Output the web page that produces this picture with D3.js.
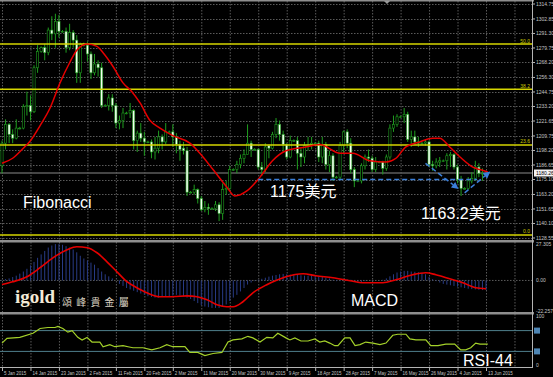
<!DOCTYPE html>
<html>
<head>
<meta charset="utf-8">
<script src="https://cdnjs.cloudflare.com/ajax/libs/d3/7.8.5/d3.min.js"></script>
<style>
body { margin: 0; background: #000; }
svg { display: block; }
</style>
</head>
<body>
<div id="chart"></div>
<script>
// daily bars, 5 Jan .. 13 Jun 2015 (broker has saturday stubs)
var opens = [1186,1204,1219,1211,1208,1216,1216,1233,1234,1229,
    1264,1277,1280,1276,1294,1291,1301,1293,1293,1280,
    1292,1286,1260,1283,1282,1275,1260,1267,1264,1234,
    1234,1240,1234,1220,1222,1228,1228,1230,1206,1212,
    1208,1205,1205,1197,1200,1209,1205,1213,1213,1209,
    1203,1200,1198,1165,1165,1167,1160,1151,1153,1152,
    1152,1155,1148,1167,1168,1183,1183,1187,1192,1195,
    1204,1199,1199,1185,1183,1202,1200,1211,1219,1211,
    1203,1193,1206,1206,1196,1193,1202,1203,1204,1204,
    1193,1203,1187,1194,1177,1177,1202,1213,1204,1183,
    1174,1174,1186,1193,1192,1183,1189,1189,1184,1193,
    1216,1219,1225,1225,1227,1207,1209,1205,1204,1204,
    1205,1187,1186,1189,1190,1190,1194,1195,1185,1175,
    1168,1168,1174,1176,1185,1180,1180];
var highs = [1206,1223,1220,1215,1223,1217,1235,1245,1242,1266,
    1282,1281,1283,1296,1305,1307,1306,1294,1296,1299,
    1294,1290,1284,1284,1285,1277,1275,1270,1268,1235,
    1243,1243,1236,1226,1232,1229,1236,1231,1214,1220,
    1213,1206,1207,1209,1214,1211,1220,1214,1219,1212,
    1206,1205,1201,1166,1171,1168,1162,1158,1156,1153,
    1158,1157,1172,1174,1186,1184,1190,1195,1199,1219,
    1206,1200,1200,1189,1204,1203,1213,1224,1222,1214,
    1204,1210,1207,1209,1200,1205,1209,1209,1205,1206,
    1209,1205,1198,1196,1178,1205,1214,1215,1208,1185,
    1175,1188,1195,1199,1194,1193,1190,1190,1195,1219,
    1226,1227,1226,1232,1229,1214,1214,1209,1205,1207,
    1206,1190,1192,1193,1191,1196,1197,1196,1187,1178,
    1169,1177,1181,1190,1188,1184,1181];
var lows = [1180,1199,1204,1204,1207,1215,1215,1226,1222,1228,
    1260,1276,1270,1274,1286,1280,1288,1292,1276,1278,
    1280,1252,1252,1281,1269,1255,1258,1257,1232,1233,
    1230,1229,1216,1215,1216,1227,1224,1199,1197,1205,
    1194,1204,1192,1191,1196,1199,1203,1212,1201,1196,
    1190,1195,1162,1164,1163,1156,1150,1149,1147,1151,
    1150,1142,1143,1163,1166,1182,1180,1184,1188,1195,
    1193,1198,1183,1178,1181,1192,1199,1208,1206,1197,
    1191,1192,1205,1183,1185,1188,1198,1199,1203,1189,
    1188,1183,1181,1174,1176,1175,1196,1200,1180,1169,
    1173,1172,1183,1189,1181,1181,1188,1179,1182,1191,
    1213,1217,1224,1220,1205,1201,1203,1201,1203,1202,
    1185,1182,1184,1185,1189,1183,1185,1183,1172,1162,
    1167,1167,1172,1174,1177,1174,1179];
var closes = [1204,1219,1211,1208,1216,1216,1233,1234,1229,1264,
    1277,1280,1276,1294,1291,1301,1293,1293,1280,1292,
    1286,1260,1283,1282,1275,1260,1267,1264,1234,1234,
    1240,1234,1220,1222,1228,1228,1230,1206,1212,1208,
    1205,1205,1197,1200,1209,1205,1213,1213,1209,1203,
    1199,1198,1165,1165,1167,1160,1151,1153,1152,1152,
    1155,1148,1167,1168,1183,1183,1187,1192,1195,1204,
    1199,1199,1185,1183,1201,1200,1211,1219,1211,1203,
    1193,1206,1206,1196,1193,1202,1203,1204,1204,1193,
    1203,1187,1194,1177,1177,1202,1213,1204,1183,1174,
    1174,1186,1193,1192,1183,1189,1189,1184,1193,1216,
    1219,1225,1225,1227,1207,1209,1205,1204,1204,1205,
    1187,1186,1189,1190,1190,1194,1195,1185,1175,1168,
    1168,1174,1176,1185,1180,1180,1180];

// red moving average, read as [bar, price]
var maLine = [[0,1188],[3,1192],[6,1200],[8,1206],[10.7,1218],[13.5,1232],[16.3,1252],
    [19,1268],[21,1278],[23.9,1283],[26.7,1281],[28.4,1276],[31.2,1265],[34,1252],
    [36.5,1245],[38.8,1236],[41.6,1222],[44.4,1216],[48,1210],[52.8,1204],[55.6,1196],
    [59.3,1183],[63.2,1169],[65.4,1162],[68.8,1166],[72.5,1177],[76,1190],[79.8,1198],
    [85.4,1201],[89.3,1203],[95,1196],[98.6,1196],[103.4,1190],[107.9,1189],[110.7,1192],
    [113.5,1201],[117.4,1205],[121,1208],[123,1208],[125.8,1201],[128.7,1193],
    [132.3,1185],[134.3,1183],[136.5,1181]];

var fibLevels = [0.0, 23.6, 38.2, 50.0];
var fibPrices = [1131.0, 1202.6, 1247.0, 1282.9];
var lastPrice = 1180.26;

var priceTicks = [1314.75,1302.85,1291.30,1279.75,1268.20,1256.30,1244.75,1233.20,1221.65,
    1209.75,1198.20,1186.65,1175.10,1163.20,1151.65,1140.10,1128.55];

var macdHist = [0.5,1,1.5,2.5,3.5,5,6.5,8.5,11,13.5,
    16.5,19,21.5,24,25.5,26.5,26.5,26,25,24,
    22.5,20.5,18,16,14.5,13,11.5,9,6.5,4.5,
    3,1.5,0,-2.5,-4,-5.5,-6.5,-7.5,-8.5,-9.5,
    -10.5,-11.5,-12,-12.5,-12.5,-12,-12,-11.5,-11,-10.5,
    -11,-11.5,-12.5,-13.5,-15,-16.5,-18,-19,-19.5,-20,
    -20,-20,-19,-17.5,-15,-12.5,-10.5,-8,-5.5,-3,
    -1.5,-0.5,0.5,1.2,2,2.8,3.5,4,4.5,4.8,
    4.5,4.2,4.5,4,3.8,3.5,3.5,3.8,3.5,3,
    2.5,2,1.5,0.5,-0.5,-0.5,0.5,0.8,0.5,-0.5,
    -1,-1,-0.5,0,-0.3,0,0.2,0.5,1.5,3,
    4.5,5.8,6.5,7,7,6.5,6.3,6,5.5,4.5,
    2.5,1,-0.5,-1.5,-2.5,-3,-3.5,-4,-4.5,-5,
    -5.5,-6,-6.3,-6.5,-6.8,-7,-7];
var macdSignal = [[0,-3],[3,-1],[7,2.7],[10.7,9.3],[14.3,16.5],[18.3,22.4],[21,24.6],[24,23.9],
    [26.7,20.2],[29.5,13.6],[32.3,6.3],[35.1,-0.9],[37.9,-5.3],[40.7,-9],[44.4,-11.9],
    [48,-11.9],[52,-11.2],[54.8,-11.9],[57.6,-14.1],[60.4,-17.7],[63.2,-19.2],[65,-19.2],
    [67.7,-15.5],[70.5,-9],[74.4,-3.1],[77.5,0.5],[79.8,2.7],[84.6,4.9],[88.2,3.4],[93,2],
    [97.8,-0.2],[101.4,-1.7],[107,-1.7],[110.7,0.5],[115.4,4.2],[119.1,5.6],[121.9,4.2],
    [125.8,1.2],[129.5,-1.7],[133.1,-5.3],[136,-6]];
var macdTicks = [27.305, 0, -22.257];
var macdTickText = ["27.305", "0.00", "-22.257"];

var rsiLine = [[0,46],[1.4,55],[5,57],[8.7,65],[10.7,74],[12.9,76],[14.9,76],[15.7,78],[17.1,74],
    [18.5,67],[19.7,70],[21.3,57],[22.5,52],[23.9,57],[25.3,48],[27.5,48],[28.4,39],[30.3,43],
    [31.7,39],[34,41],[35.4,39],[36.8,37],[39.6,37],[42.1,33],[44.4,37],[46.3,43],[48,39],
    [51.4,39],[52.8,28],[55,28],[57,22],[59.3,26],[61.8,28],[63.5,48],[64.9,52],[67.4,54],
    [69.1,59],[70.5,56],[72.5,48],[74.4,57],[76.1,56],[77.5,65],[79.8,56],[80.9,52],[82.3,56],
    [84,50],[86,50],[87.9,54],[89.3,48],[90.7,50],[92.1,46],[93.5,41],[94.4,41],[96.3,56],
    [97.8,56],[99.2,41],[100.6,43],[102.2,48],[104.2,46],[106.2,43],[107.9,46],[109.8,61],
    [111.2,63],[113.5,63],[114.6,54],[116.3,52],[119.1,52],[120.5,41],[122.5,41],[124.7,44],
    [127.2,44],[128.9,33],[130.3,33],[131.7,37],[133.1,46],[134.3,44],[136.5,44]];
var rsiLevels = [70, 30];

var dateTicks = [0,8,16,24,32,40,48,56,64,72,80,88,96,104,112,120,128,136];
var dateLabels = ["5 Jan 2015","14 Jan 2015","23 Jan 2015","2 Feb 2015","11 Feb 2015",
    "20 Feb 2015","2 Mar 2015","11 Mar 2015","20 Mar 2015","30 Mar 2015","9 Apr 2015",
    "18 Apr 2015","28 Apr 2015","7 May 2015","16 May 2015","26 May 2015","4 Jun 2015","13 Jun 2015"];
var gridBars = [0,8,16,24,32,40,48,56,64,72,80,88,96,104,112,120,128,136,144];

var chartApp = {};
(function(context) {

    var width = 553;
    var height = 377;
    var plotRight = 532;

    var svg;
    var x, yPrice, yMacd, yRsi;

    var green = "#1f9e1f";
    var gridColor = "#5a5a5a";
    var axisText = "#c4c4c4";
    var cjkFont = "'Liberation Sans', Arial, 'Noto Sans CJK TC', sans-serif";

    context.setup = function(name) {
        svg = d3.select(name).append("svg")
            .attr("width", width)
            .attr("height", height)
            .style("background", "#000");

        x = d3.scaleLinear().domain([0, 136]).range([2, 486]);
        yPrice = d3.scaleLinear().domain([1128.55, 1314.75]).range([238, 4]);
        yMacd = d3.scaleLinear().domain([-22.257, 27.305]).range([311, 243]);
        yRsi = d3.scaleLinear().domain([0, 100]).range([367, 315]);

        var defs = svg.append("defs");
        [["clipMain", 0, 240], ["clipMacd", 242, 312], ["clipRsi", 314, 367]].forEach(function(c) {
            defs.append("clipPath").attr("id", c[0])
                .append("rect")
                .attr("x", 0).attr("y", c[1])
                .attr("width", plotRight).attr("height", c[2] - c[1]);
        });
    }

    context.grid = function() {
        var g = svg.append("g");

        // vertical dotted lines, one set per panel
        [[1, 240], [242, 312], [314, 367]].forEach(function(p) {
            g.selectAll(null)
                .data(gridBars)
                .enter()
                .append("line")
                .attr("x1", function(d) { return x(d) + 0.5; })
                .attr("x2", function(d) { return x(d) + 0.5; })
                .attr("y1", p[0])
                .attr("y2", p[1])
                .attr("stroke", gridColor)
                .attr("stroke-dasharray", "1.5,1.5");
        });

        g.selectAll(null)
            .data(priceTicks)
            .enter()
            .append("line")
            .attr("x1", 0)
            .attr("x2", plotRight)
            .attr("y1", function(d) { return Math.round(yPrice(d)) + 0.5; })
            .attr("y2", function(d) { return Math.round(yPrice(d)) + 0.5; })
            .attr("stroke", gridColor)
            .attr("stroke-dasharray", "1.5,1.5");

        g.append("line")
            .attr("x1", 0).attr("x2", plotRight)
            .attr("y1", yMacd(0)).attr("y2", yMacd(0))
            .attr("stroke", gridColor)
            .attr("stroke-dasharray", "1.5,1.5");
    }

    context.main = function() {
        var g = svg.append("g").attr("clip-path", "url(#clipMain)");

        // bid line
        g.append("line")
            .attr("x1", 0).attr("x2", plotRight)
            .attr("y1", yPrice(lastPrice)).attr("y2", yPrice(lastPrice))
            .attr("stroke", "#5c5c5c")
            .attr("stroke-width", 1.5);

        var idx = d3.range(closes.length);

        g.selectAll("line.wick")
            .data(idx)
            .enter()
            .append("line")
            .attr("class", "wick")
            .attr("x1", function(i) { return x(i); })
            .attr("x2", function(i) { return x(i); })
            .attr("y1", function(i) { return yPrice(highs[i]); })
            .attr("y2", function(i) { return yPrice(lows[i]); })
            .attr("stroke", green)
            .attr("stroke-width", 1);

        g.selectAll("rect.body")
            .data(idx)
            .enter()
            .append("rect")
            .attr("class", "body")
            .attr("x", function(i) { return x(i) - 1.1; })
            .attr("y", function(i) { return yPrice(Math.max(opens[i], closes[i])); })
            .attr("width", 2.2)
            .attr("height", function(i) {
                return Math.max(0.8, Math.abs(yPrice(opens[i]) - yPrice(closes[i])));
            })
            .attr("fill", function(i) { return closes[i] < opens[i] ? "#f2fff0" : "#000"; })
            .attr("stroke", green)
            .attr("stroke-width", 0.6);

        // fibonacci levels
        g.selectAll("line.fib")
            .data(fibPrices)
            .enter()
            .append("line")
            .attr("class", "fib")
            .attr("x1", 0).attr("x2", plotRight)
            .attr("y1", function(d) { return yPrice(d); })
            .attr("y2", function(d) { return yPrice(d); })
            .attr("stroke", "#d6d600")
            .attr("stroke-width", 1.5);

        svg.selectAll("text.fib")
            .data(fibLevels)
            .enter()
            .append("text")
            .attr("class", "fib")
            .attr("x", 530)
            .attr("y", function(d, i) { return yPrice(fibPrices[i]) - 1.5; })
            .attr("text-anchor", "end")
            .attr("font-family", "'Liberation Sans', Arial, sans-serif")
            .attr("font-size", "5px")
            .attr("fill", "#c8c800")
            .text(function(d) { return d.toFixed(1); });

        g.append("path")
            .datum(maLine)
            .attr("fill", "none")
            .attr("stroke", "#e60000")
            .attr("stroke-width", 1.5)
            .attr("d", d3.line()
                .x(function(d) { return x(d[0]); })
                .y(function(d) { return yPrice(d[1]); })
                .curve(d3.curveMonotoneX));

        // blue dashed annotation
        var blue = "#3b7fd9";
        var marks = svg.append("g");
        marks.append("line")
            .attr("x1", x(72)).attr("x2", x(133.5))
            .attr("y1", yPrice(1175.1)).attr("y2", yPrice(1175.1))
            .attr("stroke", blue).attr("stroke-width", 1.5)
            .attr("stroke-dasharray", "5,3");
        var arrows = [[[119, 1188], [128.3, 1167.5]], [[130, 1164.5], [137.2, 1181.5]]];
        arrows.forEach(function(a) {
            var x1 = x(a[0][0]), y1 = yPrice(a[0][1]);
            var x2 = x(a[1][0]), y2 = yPrice(a[1][1]);
            var ang = Math.atan2(y2 - y1, x2 - x1);
            var hl = 7, hw = 3.5;
            var bx = x2 - hl * Math.cos(ang), by = y2 - hl * Math.sin(ang);
            marks.append("line")
                .attr("x1", x1).attr("y1", y1)
                .attr("x2", bx).attr("y2", by)
                .attr("stroke", blue).attr("stroke-width", 1.5)
                .attr("stroke-dasharray", "5,3");
            marks.append("path")
                .attr("d", "M" + x2 + "," + y2 +
                    "L" + (bx + hw * Math.sin(ang)) + "," + (by - hw * Math.cos(ang)) +
                    "L" + (bx - hw * Math.sin(ang)) + "," + (by + hw * Math.cos(ang)) + "Z")
                .attr("fill", blue);
        });
    }

    context.macd = function() {
        var g = svg.append("g").attr("clip-path", "url(#clipMacd)");

        g.selectAll("line.hist")
            .data(macdHist)
            .enter()
            .append("line")
            .attr("class", "hist")
            .attr("x1", function(d, i) { return x(i); })
            .attr("x2", function(d, i) { return x(i); })
            .attr("y1", yMacd(0))
            .attr("y2", function(d) { return yMacd(d); })
            .attr("stroke", "#283b86")
            .attr("stroke-width", 1);

        g.append("path")
            .datum(macdSignal)
            .attr("fill", "none")
            .attr("stroke", "#e60000")
            .attr("stroke-width", 1.6)
            .attr("d", d3.line()
                .x(function(d) { return x(d[0]); })
                .y(function(d) { return yMacd(d[1]); })
                .curve(d3.curveMonotoneX));
    }

    context.rsi = function() {
        var g = svg.append("g").attr("clip-path", "url(#clipRsi)");

        g.selectAll("line.level")
            .data(rsiLevels)
            .enter()
            .append("line")
            .attr("class", "level")
            .attr("x1", 0).attr("x2", plotRight)
            .attr("y1", function(d) { return yRsi(d); })
            .attr("y2", function(d) { return yRsi(d); })
            .attr("stroke", "#4f7f8c")
            .attr("stroke-width", 1);

        g.append("path")
            .datum(rsiLine)
            .attr("fill", "none")
            .attr("stroke", "#a4d12a")
            .attr("stroke-width", 1.2)
            .attr("d", d3.line()
                .x(function(d) { return x(d[0]); })
                .y(function(d) { return yRsi(d[1]); }));

        svg.selectAll("rect.lvl")
            .data(rsiLevels)
            .enter()
            .append("rect")
            .attr("class", "lvl")
            .attr("x", 534).attr("width", 6)
            .attr("y", function(d) { return yRsi(d) - 3; })
            .attr("height", 6)
            .attr("fill", "#4f86b4");
    }

    context.frame = function() {
        var g = svg.append("g");
        // panel separators
        [[0, 1.5], [240, 2.5], [312, 2.5]].forEach(function(s) {
            g.append("rect")
                .attr("x", 0).attr("y", s[0])
                .attr("width", plotRight + 2).attr("height", s[1])
                .attr("fill", "#8e8e8e");
        });
        g.append("line")
            .attr("x1", plotRight + 0.5).attr("x2", plotRight + 0.5)
            .attr("y1", 0).attr("y2", 368)
            .attr("stroke", "#b4b4b4");
        g.append("line")
            .attr("x1", 0).attr("x2", plotRight + 1)
            .attr("y1", 367.5).attr("y2", 367.5)
            .attr("stroke", "#b4b4b4");
        // chart shift marker
        g.append("path")
            .attr("d", "M384,1L390,1L387,4Z")
            .attr("fill", "#9a9a9a");
    }

    context.axes = function() {
        var font = "'Liberation Sans', Arial, sans-serif";

        svg.selectAll("text.price")
            .data(priceTicks)
            .enter()
            .append("text")
            .attr("class", "price")
            .attr("x", 536)
            .attr("y", function(d) { return yPrice(d) + 1.8; })
            .attr("font-family", font)
            .attr("font-size", "5px")
            .attr("fill", axisText)
            .text(function(d) { return d.toFixed(2); });

        svg.selectAll("line.ptick")
            .data(priceTicks)
            .enter()
            .append("line")
            .attr("class", "ptick")
            .attr("x1", plotRight).attr("x2", plotRight + 3)
            .attr("y1", function(d) { return yPrice(d); })
            .attr("y2", function(d) { return yPrice(d); })
            .attr("stroke", "#b4b4b4");

        svg.append("rect")
            .attr("x", 534).attr("y", yPrice(lastPrice) - 3.5)
            .attr("width", 19).attr("height", 7)
            .attr("fill", "#f4f4f4");
        svg.append("text")
            .attr("x", 536).attr("y", yPrice(lastPrice) + 1.8)
            .attr("font-family", font)
            .attr("font-size", "5px")
            .attr("fill", "#000")
            .text(lastPrice.toFixed(2));

        svg.selectAll("text.macd")
            .data(macdTicks)
            .enter()
            .append("text")
            .attr("class", "macd")
            .attr("x", 536)
            .attr("y", function(d) { return yMacd(d) + (d > 20 ? 3 : 1.8); })
            .attr("font-family", font)
            .attr("font-size", "5px")
            .attr("fill", axisText)
            .text(function(d, i) { return macdTickText[i]; });

        svg.selectAll("text.rsiax")
            .data([100, 0])
            .enter()
            .append("text")
            .attr("class", "rsiax")
            .attr("x", 536)
            .attr("y", function(d) { return yRsi(d) + (d === 100 ? 3 : 0); })
            .attr("font-family", font)
            .attr("font-size", "5px")
            .attr("fill", axisText)
            .text(function(d) { return d; });

        svg.selectAll("line.dtick")
            .data(dateTicks)
            .enter()
            .append("line")
            .attr("class", "dtick")
            .attr("x1", function(d) { return x(d) + 0.5; })
            .attr("x2", function(d) { return x(d) + 0.5; })
            .attr("y1", 368).attr("y2", 371)
            .attr("stroke", "#b4b4b4");

        svg.selectAll("text.date")
            .data(dateTicks)
            .enter()
            .append("text")
            .attr("class", "date")
            .attr("x", function(d) { return x(d) + 2; })
            .attr("y", 375)
            .attr("font-family", font)
            .attr("font-size", "4.5px")
            .attr("fill", axisText)
            .text(function(d, i) { return dateLabels[i]; });
    }

    context.labels = function() {
        var big = [
            {"t": "Fibonacci", "x": 23, "y": 208},
            {"t": "1175美元", "x": 270, "y": 197},
            {"t": "1163.2美元", "x": 421, "y": 219},
            {"t": "MACD", "x": 351, "y": 306},
            {"t": "RSI-44", "x": 463, "y": 366}];

        svg.selectAll("text.note")
            .data(big)
            .enter()
            .append("text")
            .attr("class", "note")
            .attr("x", function(d) { return d.x; })
            .attr("y", function(d) { return d.y; })
            .attr("font-family", cjkFont)
            .attr("font-size", "16px")
            .attr("fill", "#fff")
            .text(function(d) { return d.t; });

        // igold logo
        svg.append("text")
            .attr("x", 15).attr("y", 303)
            .attr("font-family", "'Liberation Serif', 'DejaVu Serif', serif")
            .attr("font-weight", "bold")
            .attr("font-size", "19px")
            .attr("fill", "#f3ead6")
            .text("igold");
        svg.append("text")
            .attr("x", 62).attr("y", 306)
            .attr("font-family", "'Noto Sans CJK TC', sans-serif")
            .attr("font-size", "10px")
            .attr("letter-spacing", "4.2px")
            .attr("fill", "#d9d1c1")
            .text("頌峰貴金屬");
    }

})(chartApp);

chartApp.setup("#chart");
chartApp.grid();
chartApp.main();
chartApp.macd();
chartApp.rsi();
chartApp.frame();
chartApp.axes();
chartApp.labels();
</script>
</body>
</html>
